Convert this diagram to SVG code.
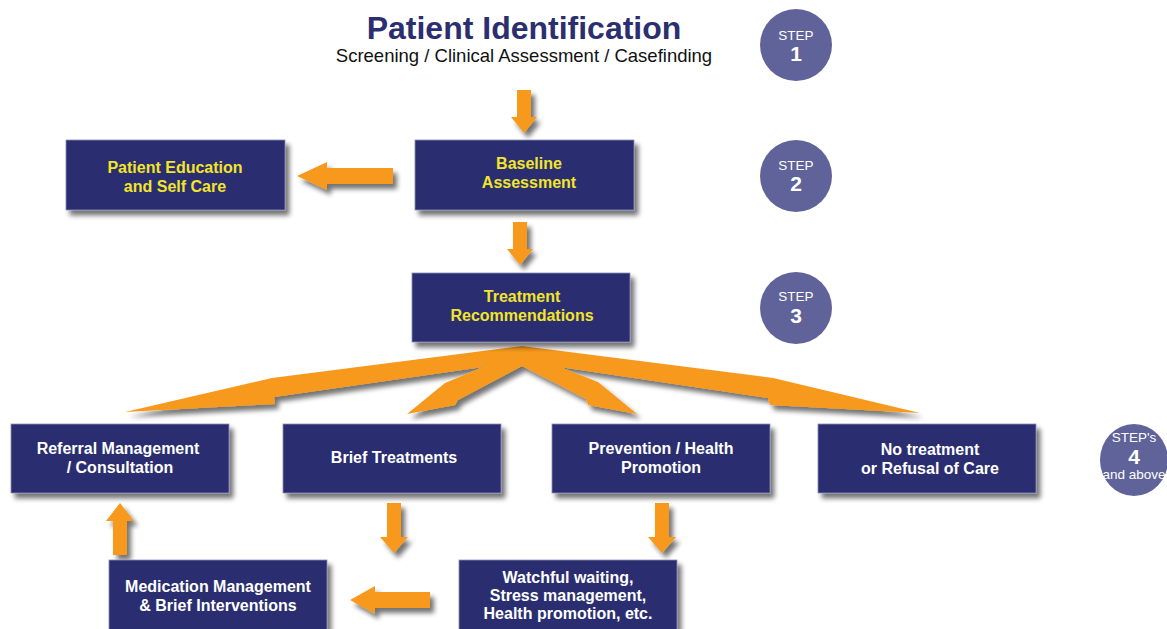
<svg xmlns="http://www.w3.org/2000/svg" width="1167" height="629" viewBox="0 0 1167 629">
<defs>
<filter id="sh" x="-20%" y="-20%" width="150%" height="160%">
<feGaussianBlur in="SourceAlpha" stdDeviation="2.5"/>
<feOffset dx="4" dy="5" result="b"/>
<feComponentTransfer><feFuncA type="linear" slope="0.55"/></feComponentTransfer>
<feMerge><feMergeNode/><feMergeNode in="SourceGraphic"/></feMerge>
</filter>
</defs>
<style>
.box{fill:#2b2f70;stroke:#8a8db5;stroke-width:0.8;filter:url(#sh)}
.arr{fill:#f7991f;filter:url(#sh)}
.ty{font-family:"Liberation Sans",Arial,sans-serif;font-weight:bold;font-size:16px;fill:#f2e52a;text-anchor:middle}
.tw{font-family:"Liberation Sans",Arial,sans-serif;font-weight:bold;font-size:16px;fill:#ffffff;text-anchor:middle}
.circ{fill:#5f6399}
.st{font-family:"Liberation Sans",Arial,sans-serif;font-size:13.5px;fill:#ffffff;text-anchor:middle}
.sn{font-family:"Liberation Sans",Arial,sans-serif;font-weight:bold;font-size:21px;fill:#ffffff;text-anchor:middle}
</style>
<rect width="1167" height="629" fill="#ffffff"/>

<g id="title">
<text x="524" y="39" font-family="Liberation Sans,Arial,sans-serif" font-weight="bold" font-size="32" fill="#2b2f70" text-anchor="middle">Patient Identification</text>
<text x="524" y="62" font-family="Liberation Sans,Arial,sans-serif" font-size="18.5" fill="#111111" text-anchor="middle">Screening / Clinical Assessment / Casefinding</text>
</g>

<g id="connectors">
<polygon class="arr" points="517,90 531,90 531,117 537,117 524,133 511,117 517,117"/>
<polygon class="arr" points="393,168 393,184 327,184 327,190 297,176 327,162 327,168"/>
<polygon class="arr" points="513,222 527,222 527,249 533,249 520,265 507,249 513,249"/>
<polygon class="arr" points="522,346 773,378 920,413 770,405 768,398 560,367 598,382 637,414 588,405 586,399 522,366 458,400 455,405 407,414 445,383 483,367 274,397 275,404 125,412 272,378"/>
<polygon class="arr" points="387,503 401,503 401,537 408,537 394,553 380,537 387,537"/>
<polygon class="arr" points="655,503 669,503 669,537 676,537 662,553 648,537 655,537"/>
<polygon class="arr" points="430,592 430,608 375,608 375,614 350,600 375,586 375,592"/>
<polygon class="arr" points="113,555 127,555 127,521 134,521 120,503 106,521 113,521"/>
</g>

<g id="patient-education">
<rect class="box" x="66" y="140" width="219" height="70"/>
<text class="ty" x="175" y="173">Patient Education</text>
<text class="ty" x="175" y="192">and Self Care</text>
</g>
<g id="baseline">
<rect class="box" x="415" y="140" width="219" height="70"/>
<text class="ty" x="529" y="169">Baseline</text>
<text class="ty" x="529" y="188">Assessment</text>
</g>
<g id="treatment">
<rect class="box" x="412" y="273" width="218" height="69"/>
<text class="ty" x="522" y="302">Treatment</text>
<text class="ty" x="522" y="321">Recommendations</text>
</g>
<g id="referral">
<rect class="box" x="11" y="424" width="218" height="69"/>
<text class="tw" x="118" y="454">Referral Management</text>
<text class="tw" x="120" y="473">/ Consultation</text>
</g>
<g id="brief">
<rect class="box" x="283" y="424" width="218" height="69"/>
<text class="tw" x="394" y="463">Brief Treatments</text>
</g>
<g id="prevention">
<rect class="box" x="552" y="424" width="218" height="69"/>
<text class="tw" x="661" y="454">Prevention / Health</text>
<text class="tw" x="661" y="473">Promotion</text>
</g>
<g id="no-treatment">
<rect class="box" x="818" y="424" width="218" height="69"/>
<text class="tw" x="930" y="455">No treatment</text>
<text class="tw" x="930" y="474">or Refusal of Care</text>
</g>
<g id="medication">
<rect class="box" x="109" y="560" width="218" height="75"/>
<text class="tw" x="218" y="592">Medication Management</text>
<text class="tw" x="218" y="611">&amp; Brief Interventions</text>
</g>
<g id="watchful">
<rect class="box" x="459" y="560" width="218" height="75"/>
<text class="tw" x="568" y="583">Watchful waiting,</text>
<text class="tw" x="568" y="601">Stress management,</text>
<text class="tw" x="568" y="619">Health promotion, etc.</text>
</g>

<g id="step1">
<circle class="circ" cx="796" cy="45" r="36"/>
<text class="st" x="796" y="40">STEP</text>
<text class="sn" x="796" y="61">1</text>
</g>
<g id="step2">
<circle class="circ" cx="796" cy="176" r="36"/>
<text class="st" x="796" y="170">STEP</text>
<text class="sn" x="796" y="191">2</text>
</g>
<g id="step3">
<circle class="circ" cx="796" cy="308" r="36"/>
<text class="st" x="796" y="301">STEP</text>
<text class="sn" x="796" y="323">3</text>
</g>
<g id="step4">
<ellipse class="circ" cx="1134" cy="460" rx="34" ry="36"/>
<text class="st" x="1134" y="442" font-size="11.5">STEP's</text>
<text class="sn" x="1134" y="464" font-size="17">4</text>
<text class="st" x="1134" y="479" font-size="10.5">and above</text>
</g>
</svg>
